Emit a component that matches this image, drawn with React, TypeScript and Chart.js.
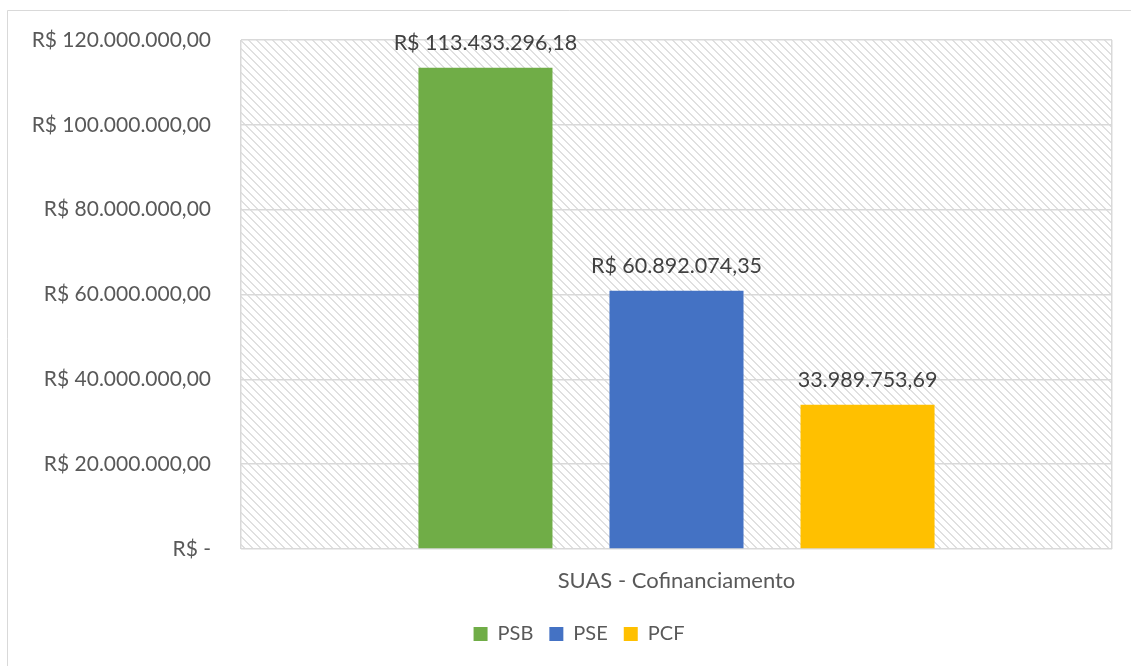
import React, { useEffect, useRef } from "react";
import { Chart, registerables } from "chart.js";

Chart.register(...registerables);

const categories = ["SUAS - Cofinanciamento"];
const seriesNames = ["PSB", "PSE", "PCF"];
const psbValues = [113433296.18];
const pseValues = [60892074.35];
const pcfValues = [33989753.69];
const seriesColors = ["#70AD47", "#4472C4", "#FFC000"];
const dataLabels = ["R$ 113.433.296,18", "R$ 60.892.074,35", "33.989.753,69"];
const yMin = 0;
const yMax = 120000000;
const yStep = 20000000;

const FONT = "Lato";
const TEXT = "#595959";

function formatTick(v: number): string {
  if (v === 0) return "R$ -";
  return (
    "R$ " +
    v.toLocaleString("pt-BR", { minimumFractionDigits: 2, maximumFractionDigits: 2 })
  );
}

function makePattern(ctx: CanvasRenderingContext2D): CanvasPattern | string {
  const c = document.createElement("canvas");
  c.width = 8;
  c.height = 8;
  const g = c.getContext("2d");
  if (!g) return "#ffffff";
  g.fillStyle = "#ffffff";
  g.fillRect(0, 0, 8, 8);
  g.fillStyle = "#e0e0e0";
  for (let i = 0; i < 8; i++) {
    g.fillRect(i, i, 1, 1);
    g.fillRect((i + 1) % 8, i, 1, 1);
  }
  return ctx.createPattern(c, "repeat") || "#ffffff";
}

const framePlugin = {
  id: "frame",
  afterLayout(chart: any) {
    // Excel centres the legend on the full chart box, which is wider than the picture
    const lg = chart.legend;
    if (lg) {
      lg.left += 23;
      lg.right += 23;
    }
  },
  beforeDraw(chart: any) {
    const ctx = chart.ctx as CanvasRenderingContext2D;
    const a = chart.chartArea;
    ctx.save();
    ctx.fillStyle = "#ffffff";
    ctx.fillRect(0, 0, chart.width, chart.height);
    ctx.strokeStyle = "#d9d9d9";
    ctx.lineWidth = 1;
    ctx.beginPath();
    ctx.moveTo(7.5, chart.height);
    ctx.lineTo(7.5, 10.5);
    ctx.lineTo(chart.width, 10.5);
    ctx.stroke();
    ctx.fillStyle = makePattern(ctx) as any;
    ctx.fillRect(a.left, a.top, a.right - a.left, a.bottom - a.top);
    ctx.restore();
  },
};

const labelPlugin = {
  id: "barLabels",
  afterDatasetsDraw(chart: any) {
    const ctx = chart.ctx as CanvasRenderingContext2D;
    ctx.save();
    ctx.font = `21.5px ${FONT}`;
    ctx.fillStyle = "#404040";
    ctx.textAlign = "center";
    ctx.textBaseline = "middle";
    chart.data.datasets.forEach((_: any, i: number) => {
      const meta = chart.getDatasetMeta(i);
      const el = meta.data[0];
      if (!el) return;
      ctx.fillText(dataLabels[i], el.x, el.y - 25);
    });
    ctx.restore();
  },
};

export default function App() {
  const ref = useRef<HTMLCanvasElement | null>(null);
  useEffect(() => {
    if (!ref.current) return;
    const values = [psbValues, pseValues, pcfValues];
    const chart = new Chart(ref.current, {
      type: "bar",
      data: {
        labels: categories,
        datasets: seriesNames.map((name, i) => ({
          label: name,
          data: values[i],
          backgroundColor: seriesColors[i],
          borderWidth: 0,
          categoryPercentage: 0.658,
          barPercentage: 0.7016,
        })),
      },
      options: {
        animation: false,
        responsive: false,
        maintainAspectRatio: false,
        layout: { padding: { top: 40, right: 19, left: 0, bottom: 12 } },
        plugins: {
          legend: {
            position: "bottom",
            labels: {
              font: { family: FONT, size: 20 },
              color: TEXT,
              boxWidth: 14,
              boxHeight: 14,
              padding: 16,
            },
          },
          tooltip: { enabled: false },
        },
        scales: {
          x: {
            grid: { display: true, color: "#d9d9d9", lineWidth: 1.5, drawTicks: false },
            border: { display: false },
            ticks: {
              font: { family: FONT, size: 22 },
              color: TEXT,
              padding: 19,
            },
            afterFit(s: any) {
              s.height = 59;
            },
          },
          y: {
            min: yMin,
            max: yMax,
            grid: {
              color: "#d9d9d9",
              lineWidth: 1.5,
              drawTicks: true,
              tickLength: 30,
              tickColor: "rgba(0,0,0,0)",
            },
            border: { display: false },
            ticks: {
              stepSize: yStep,
              font: { family: FONT, size: 21 },
              color: TEXT,
              padding: 0,
              callback: (v: any) => formatTick(Number(v)),
            },
            afterFit(s: any) {
              s.width = 241;
            },
          },
        },
      },
      plugins: [framePlugin, labelPlugin],
    });
    return () => chart.destroy();
  }, []);
  return (
    <div style={{ position: "fixed", left: 0, top: 0, width: 1131, height: 666, background: "#fff" }}>
      <canvas ref={ref} width={1131} height={666} style={{ display: "block" }} />
    </div>
  );
}
